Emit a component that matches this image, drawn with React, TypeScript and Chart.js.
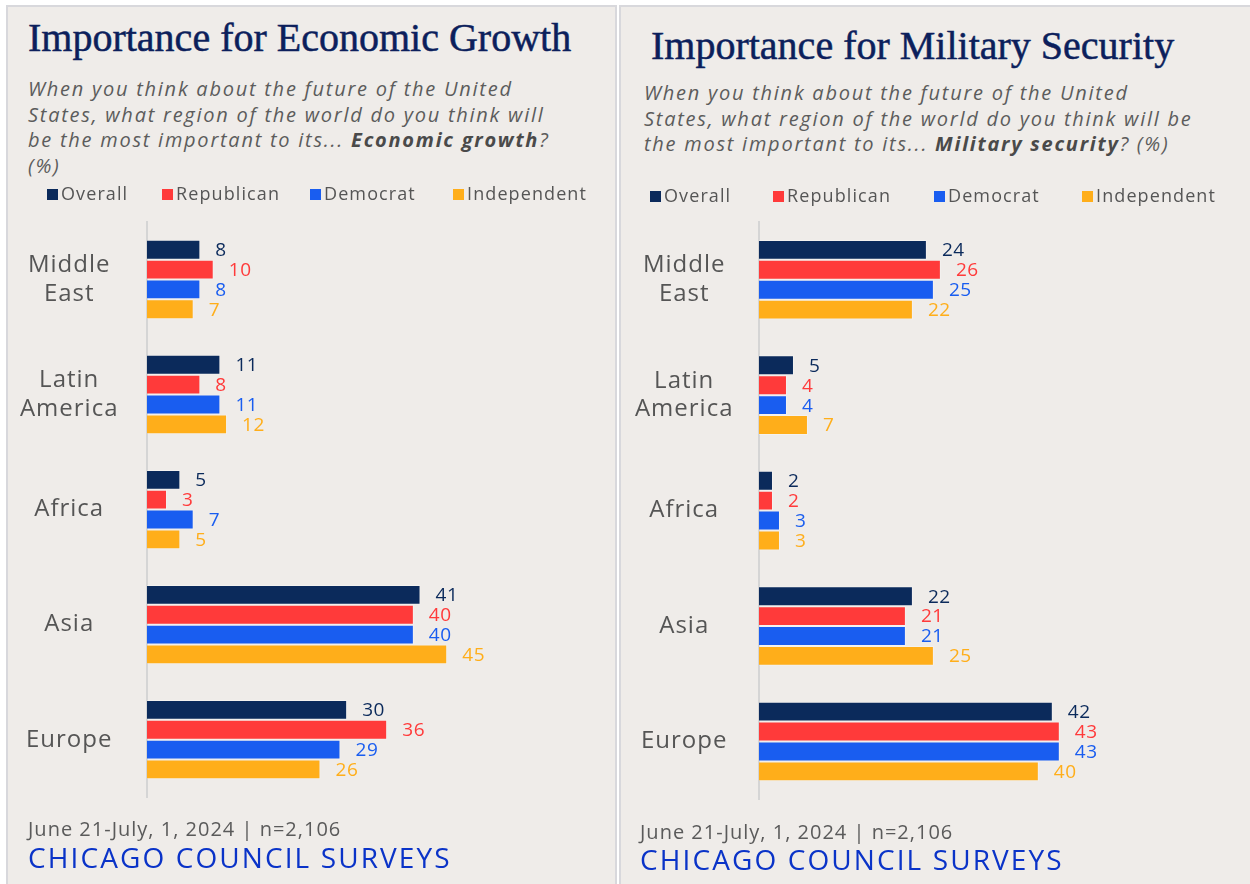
import React, { useEffect, useRef } from 'react';
import { Chart, registerables } from 'chart.js';

Chart.register(...registerables);

// Regions (category axis) and party series
const REGIONS: string[][] = [['Middle', 'East'], ['Latin', 'America'], ['Africa'], ['Asia'], ['Europe']];
const SERIES = ['Overall', 'Republican', 'Democrat', 'Independent'];
const SERIES_COLORS = ['#0b2a5b', '#ff3a3a', '#195df0', '#ffae1a'];

// Economic growth (%)
const ECON_OVERALL = [8, 11, 5, 41, 30];
const ECON_REPUBLICAN = [10, 8, 3, 40, 36];
const ECON_DEMOCRAT = [8, 11, 7, 40, 29];
const ECON_INDEPENDENT = [7, 12, 5, 45, 26];

// Military security (%)
const MIL_OVERALL = [24, 5, 2, 22, 42];
const MIL_REPUBLICAN = [26, 4, 2, 21, 43];
const MIL_DEMOCRAT = [25, 4, 3, 21, 43];
const MIL_INDEPENDENT = [22, 7, 3, 25, 40];

const SOURCE_NOTE = 'June 21-July, 1, 2024 | n=2,106';
const BRAND = 'CHICAGO COUNCIL SURVEYS';

const SANS = '"Open Sans", "DejaVu Sans", sans-serif';
const SERIF = '"Liberation Serif", "DejaVu Serif", serif';

// Slightly tracked-out canvas text for tick labels
const letterSpacing = {
  id: 'letterSpacing',
  beforeDraw(chart: any) {
    chart.ctx.letterSpacing = '1px';
  },
};

// Draws each bar's value just past its end, in the series colour
const valueLabels = {
  id: 'valueLabels',
  afterDatasetsDraw(chart: any) {
    const { ctx } = chart;
    ctx.save();
    ctx.font = `19px ${SANS}`;
    ctx.letterSpacing = '0.6px';
    ctx.textBaseline = 'middle';
    ctx.textAlign = 'left';
    chart.data.datasets.forEach((ds: any, i: number) => {
      const meta = chart.getDatasetMeta(i);
      ctx.fillStyle = SERIES_COLORS[i];
      meta.data.forEach((el: any, j: number) => {
        ctx.fillText(String(ds.data[j]), el.x + 15, el.y + 1);
      });
    });
    ctx.restore();
  },
};

type BarPanelProps = {
  series: number[][];
  xMax: number;
  left: number;
  top: number;
  width: number;
  height: number;
  axisWidth: number;
  labelPadding: number;
};

function BarPanel({ series, xMax, left, top, width, height, axisWidth, labelPadding }: BarPanelProps) {
  const ref = useRef<HTMLCanvasElement | null>(null);
  useEffect(() => {
    if (!ref.current) return;
    const chart = new Chart(ref.current, {
      type: 'bar',
      data: {
        labels: REGIONS,
        datasets: series.map((values, i) => ({
          label: SERIES[i],
          data: values,
          backgroundColor: SERIES_COLORS[i],
          borderColor: 'rgba(255,255,255,0.3)',
          borderWidth: 1,
          categoryPercentage: 0.69,
          barPercentage: 1,
        })),
      },
      options: {
        indexAxis: 'y',
        responsive: false,
        animation: false,
        devicePixelRatio: 1,
        layout: { padding: { top: 40, bottom: 40, left: 0, right: 0 } },
        plugins: { legend: { display: false }, tooltip: { enabled: false } },
        scales: {
          x: { display: false, min: 0, max: xMax },
          y: {
            grid: { display: false },
            border: { display: true, color: '#d5d5d5', width: 2 },
            ticks: {
              color: '#555555',
              font: { family: SANS, size: 24, lineHeight: 1.2 },
              crossAlign: 'center',
              padding: labelPadding,
            },
            afterFit(scale: any) {
              scale.width = axisWidth;
            },
          },
        },
      },
      plugins: [letterSpacing, valueLabels],
    } as any);
    return () => chart.destroy();
  }, []);
  return (
    <canvas
      ref={ref}
      width={width}
      height={height}
      style={{ position: 'absolute', left, top, width, height }}
    />
  );
}

function Legend({ xs, top }: { xs: number[]; top: number }) {
  return (
    <>
      {SERIES.map((name, i) => (
        <div
          key={name}
          style={{
            position: 'absolute',
            left: xs[i],
            top,
            display: 'flex',
            alignItems: 'center',
            fontFamily: SANS,
            fontSize: 18,
            lineHeight: '22px',
            letterSpacing: 1.1,
            color: '#555555',
            whiteSpace: 'nowrap',
          }}
        >
          <span style={{ display: 'inline-block', width: 11, height: 11, background: SERIES_COLORS[i], marginRight: 3, marginTop: 3 }} />
          {name}
        </div>
      ))}
    </>
  );
}

const titleStyle: React.CSSProperties = {
  position: 'absolute',
  fontFamily: SERIF,
  fontSize: 40,
  lineHeight: '40px',
  color: '#0c1f5c',
  WebkitTextStroke: '0.5px #0c1f5c',
  whiteSpace: 'nowrap',
};

const subStyle: React.CSSProperties = {
  position: 'absolute',
  fontFamily: SANS,
  fontStyle: 'italic',
  fontSize: 20,
  lineHeight: '25.5px',
  letterSpacing: 1.75,
  color: '#5c5c5c',
  whiteSpace: 'nowrap',
};

const noteStyle: React.CSSProperties = {
  position: 'absolute',
  fontFamily: SANS,
  fontSize: 20,
  lineHeight: '26px',
  letterSpacing: 1,
  color: '#5a5a5a',
  whiteSpace: 'nowrap',
};

const brandStyle: React.CSSProperties = {
  position: 'absolute',
  fontFamily: SANS,
  fontSize: 28,
  lineHeight: '30px',
  letterSpacing: 2.1,
  color: '#0a33c8',
  whiteSpace: 'nowrap',
};

const panelStyle: React.CSSProperties = {
  position: 'absolute',
  top: 5,
  height: 900,
  boxSizing: 'border-box',
  background: '#efece9',
  border: '2px solid #d8d8dc',
};

export default function App() {
  return (
    <div style={{ position: 'fixed', left: 0, top: 0, width: 1250, height: 884, background: '#ffffff', overflow: 'hidden' }}>
      <div style={{ ...panelStyle, left: 6, width: 611 }} />
      <div style={{ ...panelStyle, left: 619, width: 650 }} />

      <BarPanel
        series={[ECON_OVERALL, ECON_REPUBLICAN, ECON_DEMOCRAT, ECON_INDEPENDENT]}
        xMax={69.1}
        left={8}
        top={182}
        width={600}
        height={668}
        axisWidth={139}
        labelPadding={24}
      />
      <BarPanel
        series={[MIL_OVERALL, MIL_REPUBLICAN, MIL_DEMOCRAT, MIL_INDEPENDENT]}
        xMax={68.9}
        left={621}
        top={182}
        width={620}
        height={667}
        axisWidth={138}
        labelPadding={21}
      />

      <div style={{ ...titleStyle, left: 28, top: 18 }}>Importance for Economic Growth</div>
      <div style={{ ...subStyle, left: 28, top: 76 }}>
        When you think about the future of the United<br />
        States, what region of the world do you think will<br />
        be the most important to its... <b style={{ color: '#4a4a4a' }}>Economic growth</b>?<br />
        (%)
      </div>
      <Legend xs={[47, 162, 310, 453]} top={182} />
      <div style={{ ...noteStyle, left: 28, top: 816 }}>{SOURCE_NOTE}</div>
      <div style={{ ...brandStyle, left: 28, top: 842 }}>{BRAND}</div>

      <div style={{ ...titleStyle, left: 651, top: 26 }}>Importance for Military Security</div>
      <div style={{ ...subStyle, left: 644, top: 80 }}>
        When you think about the future of the United<br />
        States, what region of the world do you think will be<br />
        the most important to its... <b style={{ color: '#4a4a4a' }}>Military security</b>? (%)
      </div>
      <Legend xs={[650, 773, 934, 1082]} top={184} />
      <div style={{ ...noteStyle, left: 640, top: 819 }}>{SOURCE_NOTE}</div>
      <div style={{ ...brandStyle, left: 640, top: 844 }}>{BRAND}</div>
    </div>
  );
}
